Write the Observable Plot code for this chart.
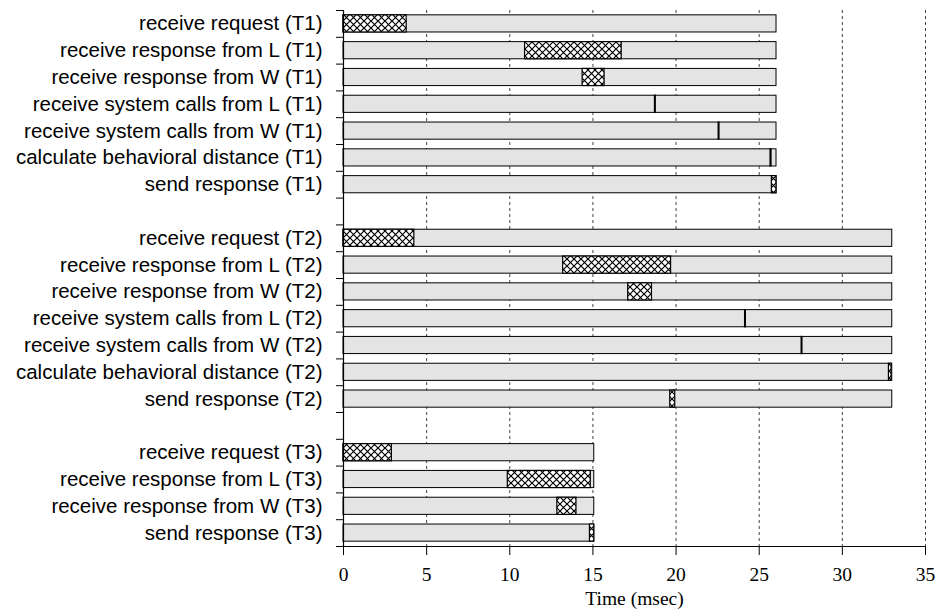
<!DOCTYPE html>
<html><head><meta charset="utf-8">
<script src="https://cdn.jsdelivr.net/npm/d3@7"></script>
<script src="https://cdn.jsdelivr.net/npm/@observablehq/plot@0.6"></script>
<style>body{margin:0;background:#fff}svg{display:block}</style>
</head><body><div id="chart"></div>
<script>
const steps = ["receive request","receive response from L","receive response from W","receive system calls from L","receive system calls from W","calculate behavioral distance","send response"];
const tasks = ["T1","T2","T3"];
const taskSteps = [[0,1,2,3,4,5,6],[0,1,2,3,4,5,6],[0,1,2,6]];
const totals = [26.04, 33.0, 15.08];
const t1Start = [0, 10.92, 14.38, 18.73, 22.56, 25.68, 25.76];
const t1End   = [3.80, 16.73, 15.70, 18.78, 22.61, 25.74, 26.04];
const t2Start = [0, 13.21, 17.12, 24.15, 27.55, 32.80, 19.65];
const t2End   = [4.26, 19.70, 18.55, 24.20, 27.60, 32.96, 19.95];
const t3Start = [0, 9.88, 12.86, 14.82];
const t3End   = [2.91, 14.87, 14.01, 15.08];
const xTicks = [0,5,10,15,20,25,30,35];
const xLabel = "Time (msec)";

const starts = [t1Start, t2Start, t3Start];
const ends = [t1End, t2End, t3End];
const rows = [];
const labels = [];
let r = 0;
tasks.forEach((t, i) => {
  taskSteps[i].forEach((s, j) => {
    const label = `${steps[s]} (${t})`;
    rows.push({row: r, label, total: totals[i], start: starts[i][j], end: ends[i][j]});
    labels[r] = label;
    r++;
  });
  if (i < tasks.length - 1) { labels[r] = ""; r++; }
});
const nRows = r;
const labelRows = rows.map(d => d.row);
const boundaries = d3.range(nRows + 1).map(i => i - 0.5);
const half = 0.32;

const svg = Plot.plot({
  width: 937, height: 616,
  marginLeft: 343, marginRight: 12, marginTop: 10, marginBottom: 70,
  x: {domain: [0, 35]},
  y: {domain: [-0.5, nRows - 0.5], reverse: true},
  style: {background: "white", color: "black"},
  marks: [
    Plot.ruleX(xTicks.slice(1), {stroke: "#444", strokeDasharray: "3,3", strokeWidth: 1}),
    Plot.rect(rows, {x1: 0, x2: "total", y1: d => d.row - half, y2: d => d.row + half, fill: "#e4e4e4", stroke: "black", strokeWidth: 1}),
    Plot.rect(rows, {x1: "start", x2: "end", y1: d => d.row - half, y2: d => d.row + half, fill: "#010203", stroke: "black", strokeWidth: 1.2}),
    Plot.ruleX([0], {stroke: "black", strokeWidth: 1.2}),
    Plot.ruleY([nRows - 0.5], {stroke: "black", strokeWidth: 1.2}),
    Plot.axisX({ticks: xTicks, tickSize: 9, tickPadding: 12, fontSize: 19.5, fontFamily: "Liberation Serif", label: null}),
    Plot.text([xLabel], {text: d => d, frameAnchor: "bottom", dy: 58, fontSize: 19.5, fontFamily: "Liberation Serif", fill: "black"}),
    Plot.axisY({ticks: labelRows, tickFormat: i => labels[i], tickSize: 0, tickPadding: 21, fontSize: 20.5, fontFamily: "Liberation Sans", label: null}),
    Plot.axisY({ticks: boundaries, tickFormat: () => "", tickSize: 7, label: null})
  ]
});

const defs = d3.select(svg).insert("defs", ":first-child");
const pat = defs.append("pattern").attr("id", "hatch").attr("patternUnits", "userSpaceOnUse").attr("width", 7).attr("height", 7);
pat.append("rect").attr("width", 7).attr("height", 7).attr("fill", "white");
pat.append("path").attr("d", "M0,0L7,7M7,0L0,7").attr("stroke", "black").attr("stroke-width", 1.2);
d3.select(svg).selectAll('[fill="#010203"]').attr("fill", "url(#hatch)");
document.getElementById("chart").appendChild(svg);
</script>
</body></html>
